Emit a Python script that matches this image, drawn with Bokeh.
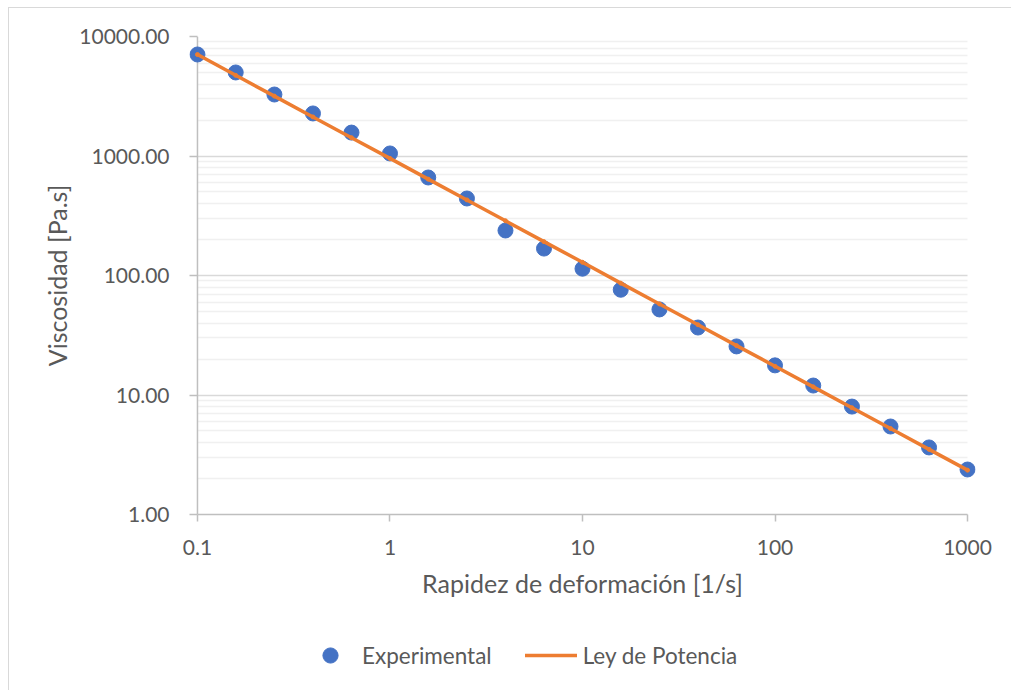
from bokeh.plotting import figure
from bokeh.layouts import column
from bokeh.models import (FixedTicker, NumeralTickFormatter, CustomJSTickFormatter,
                          Legend, LegendItem, Span)
from bokeh.embed import file_html
from bokeh.resources import INLINE

# Shear rate [1/s], five points per decade
shear_rate = [0.1, 0.158, 0.251, 0.398, 0.631, 1.0, 1.58, 2.51, 3.98, 6.31,
              10.0, 15.8, 25.1, 39.8, 63.1, 100.0, 158.0, 251.0, 398.0, 631.0, 1000.0]

# Measured viscosity [Pa.s]
viscosity_exp = [7070, 5000, 3270, 2270, 1570, 1050, 661, 441, 238, 168,
                 114, 76, 52, 36.7, 25.5, 17.7, 12.0, 8.0, 5.45, 3.64, 2.38]

# Power-law model viscosity [Pa.s]
viscosity_fit = [7063, 4732, 3170, 2123, 1422, 955, 640, 429, 287, 192,
                 129, 86.3, 57.8, 38.7, 25.9, 17.4, 11.7, 7.82, 5.24, 3.51, 2.35]

x_ticks = [0.1, 1, 10, 100, 1000]
y_ticks = [1, 10, 100, 1000, 10000]
y_minor = [m * 10 ** d for d in range(0, 4) for m in range(2, 10)]

FONT = "Lato"
TEXT = "#595959"
AXIS = "#bfbfbf"
BLUE = "#4472C4"
ORANGE = "#ED7D31"

# a little room past both x ends so the end markers stay whole
x_pad = 1.1
p = figure(width=1002, height=606, x_axis_type="log", y_axis_type="log",
           x_range=(x_ticks[0] / x_pad, x_ticks[-1] * x_pad),
           y_range=(y_ticks[0], y_ticks[-1]),
           output_backend="svg", toolbar_location=None,
           min_border_left=180, min_border_right=36,
           min_border_top=28, min_border_bottom=100)
p.outline_line_color = None
p.background_fill_color = "white"
p.border_fill_color = "white"

# vertical axis line sits at the first x tick, under the data
p.add_layout(Span(location=x_ticks[0], dimension="height", line_color=AXIS,
                  line_width=1.5, level="underlay"))

# experimental points, then the model line drawn over them
exp_r = p.scatter(shear_rate, viscosity_exp, size=15, color=BLUE, line_color=BLUE)
fit_r = p.line(shear_rate, viscosity_fit, line_width=3.5, color=ORANGE, line_cap="round")
p.scatter(shear_rate, viscosity_fit, size=4, color=ORANGE, line_color=ORANGE)

# axes
p.xaxis.ticker = FixedTicker(ticks=x_ticks, minor_ticks=[])
p.yaxis.ticker = FixedTicker(ticks=y_ticks, minor_ticks=y_minor)
p.xaxis.formatter = CustomJSTickFormatter(code="return String(tick)")
p.yaxis.formatter = NumeralTickFormatter(format="0.00")
p.xaxis.bounds = (x_ticks[0], x_ticks[-1])

for ax in (p.xaxis, p.yaxis):
    ax.axis_line_color = AXIS
    ax.axis_line_width = 1.5
    ax.major_tick_line_color = AXIS
    ax.major_tick_line_width = 1.5
    ax.minor_tick_line_color = None
    ax.major_label_text_font = FONT
    ax.major_label_text_font_size = "21px"
    ax.major_label_text_color = TEXT
    ax.axis_label_text_font = FONT
    ax.axis_label_text_font_size = "25px"
    ax.axis_label_text_font_style = "normal"
    ax.axis_label_text_color = TEXT

p.yaxis.axis_line_color = None
p.xaxis.major_tick_in = 0
p.xaxis.major_tick_out = 7
p.yaxis.major_tick_in = 8
p.yaxis.major_tick_out = 0

p.xaxis.axis_label = "Rapidez de deformación [1/s]"
p.yaxis.axis_label = "Viscosidad [Pa.s]"
p.xaxis.major_label_standoff = 18
p.yaxis.major_label_standoff = 16
p.xaxis.axis_label_standoff = 10
p.yaxis.axis_label_standoff = 4

# grid: horizontal only, spanning the axis extent
p.xgrid.visible = False
p.ygrid.cross_bounds = (x_ticks[0], x_ticks[-1])
p.ygrid.grid_line_color = "#d9d9d9"
p.ygrid.grid_line_width = 1.5
p.ygrid.minor_grid_line_color = "#f0f0f0"
p.ygrid.minor_grid_line_width = 1.5

# legend strip under the chart; its key renderers hold a point kept off-range
leg = figure(width=1002, height=76, x_range=(0, 1), y_range=(0, 1),
             output_backend="svg", toolbar_location=None,
             x_axis_location=None, y_axis_location=None,
             min_border=0, outline_line_color=None)
leg.grid.visible = False
leg_exp = leg.scatter(x=[-5], y=[-5], size=15, color=BLUE, line_color=BLUE)
leg_fit = leg.line(x=[-5, -4], y=[-5, -4], line_width=3.5, color=ORANGE,
                   line_cap="round")
legend = Legend(items=[LegendItem(label="Experimental", renderers=[leg_exp]),
                       LegendItem(label="Ley de Potencia", renderers=[leg_fit])],
                orientation="horizontal", location=(115, 16),
                glyph_width=52, glyph_height=38, label_standoff=6, spacing=33,
                padding=0, margin=0, border_line_alpha=0, background_fill_alpha=0,
                label_text_font=FONT, label_text_font_size="22.5px",
                label_text_color=TEXT)
leg.add_layout(legend, "center")

page = column(p, leg, spacing=0,
              styles={"margin-left": "8px", "margin-top": "7px",
                      "border-left": "1px solid #d9d9d9",
                      "border-top": "1px solid #d9d9d9"})

open("out.html", "w").write(file_html(page, INLINE))
